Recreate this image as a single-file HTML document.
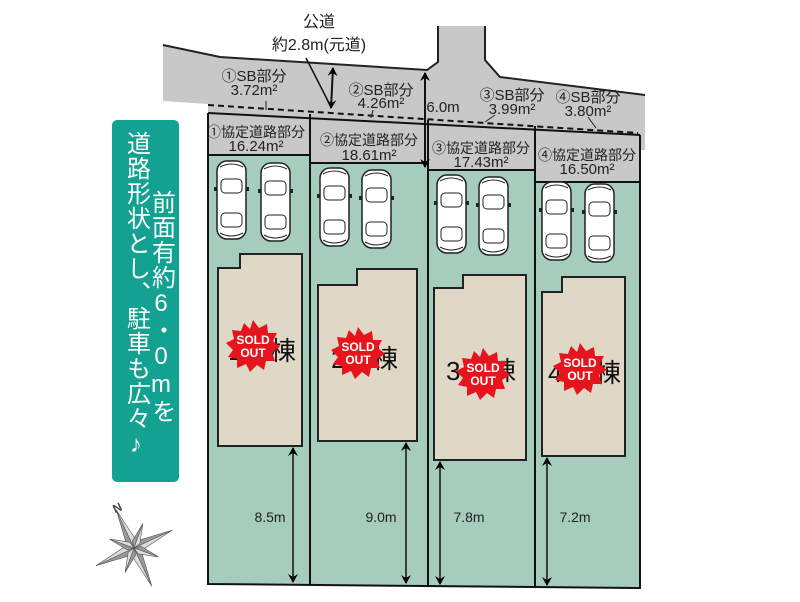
<!DOCTYPE html>
<html><head><meta charset="utf-8"><style>
body{margin:0;background:#fff;width:800px;height:602px;overflow:hidden;}
svg{display:block;font-family:"Liberation Sans","Noto Sans CJK JP",sans-serif;}
</style></head><body>
<svg width="800" height="602" viewBox="0 0 800 602">
<defs>
<marker id="ah" markerWidth="10" markerHeight="10" refX="8" refY="5" orient="auto-start-reverse" markerUnits="userSpaceOnUse">
<path d="M0,0 L9,5 L0,10 L3,5 Z" fill="#000"/></marker>
<g id="car">
<rect x="0" y="0" width="29" height="78" rx="10" fill="#fff" stroke="#222" stroke-width="1.5"/>
<rect x="4" y="18" width="21" height="14" rx="4" fill="none" stroke="#222" stroke-width="1"/>
<rect x="4" y="52" width="21" height="14" rx="4" fill="none" stroke="#222" stroke-width="1"/>
<path d="M3,6 Q14,0 26,6 M3,72 Q14,78 26,72" fill="none" stroke="#222"/>
<rect x="-3" y="26" width="3" height="4" fill="#222"/><rect x="29" y="26" width="3" height="4" fill="#222"/>
</g>
<g id="sold">
<polygon points="0,-26 6,-18 14,-22 15,-13 24,-13 20,-5 27,1 19,6 22,15 13,15 11,24 4,19 -3,26 -7,18 -16,22 -16,13 -25,11 -20,4 -27,-3 -19,-7 -21,-16 -12,-15 -9,-23 -3,-17" fill="#e6141c"/>
<text x="0" y="-2" font-size="12" font-weight="bold" fill="#fff" text-anchor="middle">SOLD</text>
<text x="0" y="11" font-size="12" font-weight="bold" fill="#fff" text-anchor="middle">OUT</text>
</g>
<g id="ray"><polygon points="0,0 -5,-8 0,-42" fill="#999" stroke="#555" stroke-width="0.6"/><polygon points="0,0 5,-8 0,-42" fill="#ddd" stroke="#555" stroke-width="0.6"/></g>
<g id="ray2"><polygon points="0,0 -4,-6 0,-26" fill="#999" stroke="#555" stroke-width="0.6"/><polygon points="0,0 4,-6 0,-26" fill="#ddd" stroke="#555" stroke-width="0.6"/></g>
</defs>
<!-- road / gray area -->
<polygon points="163,45 220,57 427,70 438,62 438,26 485,26 485,60 500,77 645,95 645,150 640,150 640,182 208,182 208,104 163,101" fill="#c8c8c8"/>
<path d="M163,45 L220,57 L427,70 L438,62 L438,26 M485,26 L485,60 L500,77 L645,95" fill="none" stroke="#222" stroke-width="2"/>
<!-- green lots -->
<rect x="208" y="155" width="102" height="429" fill="#a5ccbc"/>
<rect x="310" y="163" width="118" height="422" fill="#a5ccbc"/>
<rect x="428" y="170" width="107" height="416" fill="#a5ccbc"/>
<rect x="535" y="182" width="105" height="406" fill="#a5ccbc"/>
<g stroke="#111" stroke-width="2" fill="none">
<path d="M208,155 L310,155 M310,163 L428,163 M428,170 L535,170 M535,182 L640,182"/>
<path d="M208,113 L640,135"/>
<path d="M208,113 L208,584 L640,588 L640,135"/>
<path d="M310,114 L310,585 M428,120 L428,586 M535,126 L535,587"/>
</g>
<path d="M208,105 L638,133" stroke="#111" stroke-width="2" stroke-dasharray="6,4" fill="none"/>
<!-- cars -->
<use href="#car" x="217" y="161"/><use href="#car" x="261" y="163"/>
<use href="#car" x="320" y="168"/><use href="#car" x="362" y="170"/>
<use href="#car" x="437" y="175"/><use href="#car" x="479" y="177"/>
<use href="#car" x="542" y="182"/><use href="#car" x="585" y="184"/>
<!-- houses -->
<g fill="#e0d8c6" stroke="#222" stroke-width="2">
<polygon points="240,254 302,254 302,446 218,446 218,268 240,268"/>
<polygon points="357,269 417,269 417,441 318,441 318,285 357,285"/>
<polygon points="463,275 526,275 526,460 434,460 434,288 463,288"/>
<polygon points="562,277 625,277 625,456 542,456 542,292 562,292"/>
</g>
<g font-size="26" fill="#111">
<text x="228" y="360">1</text><text x="270" y="360">棟</text>
<text x="331" y="368">2</text><text x="372" y="368">棟</text>
<text x="446" y="380">3</text><text x="490" y="380">棟</text>
<text x="548" y="382">4</text><text x="595" y="382">棟</text>
</g>
<use href="#sold" x="253" y="346"/>
<use href="#sold" x="358" y="353"/>
<use href="#sold" x="483" y="374"/>
<use href="#sold" x="580" y="369"/>
<!-- dimension arrows -->
<g stroke="#111" stroke-width="1.5" marker-start="url(#ah)" marker-end="url(#ah)">
<line x1="293" y1="448" x2="293" y2="582"/>
<line x1="406" y1="443" x2="406" y2="583"/>
<line x1="440" y1="462" x2="440" y2="584"/>
<line x1="547" y1="458" x2="547" y2="585"/>
<line x1="425" y1="73" x2="425" y2="167" stroke-width="2"/>
<line x1="333" y1="68" x2="331" y2="108" stroke-width="2"/>
</g>
<line x1="306" y1="58" x2="330" y2="105" stroke="#111" stroke-width="1.5"/>
<g font-size="14" fill="#222" text-anchor="middle">
<text x="270" y="522">8.5m</text><text x="381" y="522">9.0m</text>
<text x="469" y="522">7.8m</text><text x="575" y="522">7.2m</text>
</g>
<g font-size="15" fill="#222" text-anchor="middle">
<text x="319" y="27" font-size="16">公道</text>
<text x="319" y="50" font-size="16">約2.8m(元道)</text>
<text x="443" y="112">6.0m</text>
<text x="254" y="81">①SB部分</text><text x="254" y="95">3.72m²</text>
<text x="381" y="95">②SB部分</text><text x="381" y="108">4.26m²</text>
<text x="512" y="100">③SB部分</text><text x="512" y="114">3.99m²</text>
<text x="588" y="102">④SB部分</text><text x="588" y="116">3.80m²</text>
<text x="256" y="137" font-size="14">①協定道路部分</text><text x="256" y="151">16.24m²</text>
<text x="369" y="145" font-size="14">②協定道路部分</text><text x="369" y="160">18.61m²</text>
<text x="481" y="153" font-size="14">③協定道路部分</text><text x="481" y="167">17.43m²</text>
<text x="587" y="160" font-size="14">④協定道路部分</text><text x="587" y="174">16.50m²</text>
</g>
<g stroke="#222" stroke-width="1">
<line x1="266" y1="101" x2="266" y2="110"/><line x1="373" y1="110" x2="371" y2="118"/>
<line x1="495" y1="115" x2="485" y2="122"/><line x1="588" y1="117" x2="596" y2="128"/>
</g>
<!-- teal box -->
<rect x="112" y="120" width="67" height="362" rx="5" fill="#13a192"/>
<text x="136" y="131" font-size="24" fill="#fff" style="writing-mode:vertical-rl;text-orientation:upright;letter-spacing:1px">道路形状とし、駐車も広々♪</text>
<text x="161" y="190" font-size="24" fill="#fff" style="writing-mode:vertical-rl;text-orientation:upright;letter-spacing:1px">前面有約6・0mを</text>
<!-- compass -->
<g transform="translate(134,548) rotate(-25)">
<use href="#ray" transform="rotate(0)"/><use href="#ray" transform="rotate(90)"/>
<use href="#ray" transform="rotate(180)"/><use href="#ray" transform="rotate(270)"/>
<use href="#ray2" transform="rotate(45)"/><use href="#ray2" transform="rotate(135)"/>
<use href="#ray2" transform="rotate(225)"/><use href="#ray2" transform="rotate(315)"/>
</g>
<text x="113" y="512" font-size="12" font-weight="bold" fill="#444" transform="rotate(-25 117 508)">N</text>
</svg>
</body></html>
